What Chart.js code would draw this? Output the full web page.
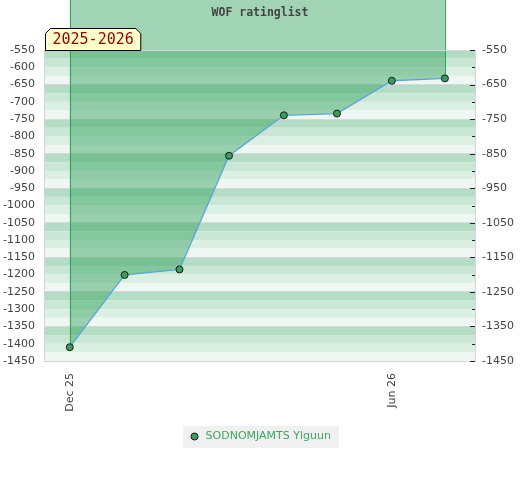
<!DOCTYPE html>
<html><head><meta charset="utf-8">
<script src="https://cdn.jsdelivr.net/npm/chart.js@4.4.0/dist/chart.umd.min.js"></script>
<style>html,body{margin:0;padding:0;background:#fff;}</style>
</head><body>
<canvas id="c" width="520" height="480" style="width:520px;height:480px;display:block"></canvas>
<script>
// ---- data ----
const chartTitle = 'WOF ratinglist';
const seasonLabel = '2025-2026';
const seriesName = 'SODNOMJAMTS Ylguun';
const dates = ['2025-12-01','2026-01-01','2026-02-01','2026-03-01','2026-04-01','2026-05-01','2026-06-01','2026-07-01'];
const ratings = [-1410, -1201, -1185, -856, -739, -734, -639, -632];
const xTickDates = ['2025-12-01','2026-06-01'];
const xTickLabels = ['Dec 25','Jun 26'];
const xRangeDates = ['2025-11-17','2026-07-18'];
const yMin = -1450, yMax = -550;

// ---- helpers ----
const DAY = 86400000;
const dayOf = d => Math.round((Date.parse(d) - Date.parse(dates[0])) / DAY);
const points = dates.map((d, i) => ({x: dayOf(d), y: ratings[i]}));
const xTickVals = xTickDates.map(dayOf);
const FONT = 'DejaVu Sans';
const stripeColors = ['#b3ddc4', '#c9e7d4', '#dcefe3', '#eef7f1'];

const decor = {
  id: 'decor',
  beforeDraw(chart) {
    const {ctx, chartArea: a} = chart;
    const ys = chart.scales.y;
    ctx.save();
    const hb = chart.legend && chart.legend.legendHitBoxes && chart.legend.legendHitBoxes[0];
    if (hb) {
      ctx.fillStyle = '#f0f0f0';
      const cy = hb.top + hb.height / 2;
      ctx.fillRect(Math.round(hb.left - 6), Math.round(cy - 11), Math.round(hb.width + 14), 22);
    }
    let k = 0;
    for (let v = yMax; v > yMin; v -= 25, k++) {
      const y1 = ys.getPixelForValue(v), y2 = ys.getPixelForValue(v - 25);
      ctx.fillStyle = stripeColors[k % 4];
      ctx.fillRect(a.left, y1, a.right - a.left, y2 - y1);
    }
    ctx.restore();
  },
  beforeDatasetsDraw(chart) {
    const {ctx} = chart;
    const els = chart.getDatasetMeta(0).data;
    if (!els.length) return;
    const first = els[0], last = els[els.length - 1];
    ctx.save();
    ctx.beginPath();
    ctx.moveTo(first.x, 0);
    els.forEach(p => ctx.lineTo(p.x, p.y));
    ctx.lineTo(last.x, 0);
    ctx.closePath();
    ctx.fillStyle = 'rgba(46,160,90,0.45)';
    ctx.fill();
    ctx.strokeStyle = '#2ea35a';
    ctx.lineWidth = 1;
    ctx.beginPath();
    const fx = Math.round(first.x) + 0.5, lx = Math.round(last.x) + 0.5;
    ctx.moveTo(fx, 0); ctx.lineTo(fx, first.y);
    ctx.moveTo(lx, 0); ctx.lineTo(lx, last.y);
    ctx.stroke();
    ctx.restore();
  },
  afterDatasetsDraw(chart) {
    const {ctx, chartArea: a} = chart;
    ctx.save();
    ctx.strokeStyle = '#d6d6d6';
    ctx.lineWidth = 1;
    ctx.strokeRect(Math.round(a.left) - 0.5, Math.round(a.top) + 0.5, Math.round(a.right - a.left) + 1, Math.round(a.bottom - a.top));
    const y2 = chart.scales.y2;
    ctx.strokeStyle = '#222';
    y2.ticks.forEach(t => {
      const y = Math.round(y2.getPixelForValue(t.value)) + 0.5;
      const major = ((t.value - yMax) % 100) === 0;
      ctx.beginPath();
      ctx.moveTo(a.right - (major ? 5 : 3), y);
      ctx.lineTo(a.right, y);
      ctx.stroke();
    });
    ctx.fillStyle = '#444';
    ctx.font = 'bold 11.5px "DejaVu Sans Mono"';
    ctx.textAlign = 'center';
    ctx.textBaseline = 'middle';
    ctx.fillText(chartTitle, (a.left + a.right) / 2, 13);
    ctx.restore();
  },
  afterDraw(chart) {
    const {ctx, chartArea: a} = chart;
    ctx.save();
    ctx.font = '15px "DejaVu Sans Mono"';
    const w = ctx.measureText(seasonLabel).width + 14;
    const x0 = Math.round(a.left) + 0.5, y0 = 28.5, h = 22, c = 5;
    ctx.beginPath();
    ctx.moveTo(x0, y0 + c);
    ctx.lineTo(x0 + c, y0);
    ctx.lineTo(x0 + w - c, y0);
    ctx.lineTo(x0 + w, y0 + c);
    ctx.lineTo(x0 + w, y0 + h);
    ctx.lineTo(x0, y0 + h);
    ctx.closePath();
    ctx.fillStyle = '#ffffcc';
    ctx.fill();
    ctx.strokeStyle = '#000';
    ctx.lineWidth = 1;
    ctx.stroke();
    ctx.fillStyle = '#990000';
    ctx.textAlign = 'left';
    ctx.textBaseline = 'middle';
    ctx.fillText(seasonLabel, x0 + 7, y0 + h / 2 + 1);
    ctx.restore();
  }
};

new Chart(document.getElementById('c'), {
  type: 'line',
  data: {
    datasets: [{
      label: seriesName,
      data: points,
      yAxisID: 'y',
      borderColor: '#5aa5dc',
      borderWidth: 1.3,
      fill: false,
      tension: 0,
      pointRadius: 3.5,
      pointBackgroundColor: '#3a9d5d',
      pointBorderColor: '#1a1a1a',
      pointBorderWidth: 1,
      clip: false
    }]
  },
  options: {
    responsive: false,
    animation: false,
    devicePixelRatio: 1,
    layout: {padding: {top: 50, bottom: 28, left: 0, right: 0}},
    plugins: {
      legend: {
        position: 'bottom',
        labels: {usePointStyle: true, boxHeight: 5, boxWidth: 12, padding: 8, color: '#3aa860', font: {family: FONT, size: 11}}
      },
      tooltip: {enabled: false},
      title: {display: false}
    },
    scales: {
      x: {
        type: 'linear',
        min: dayOf(xRangeDates[0]),
        max: dayOf(xRangeDates[1]),
        grid: {display: false},
        border: {display: false},
        afterBuildTicks: s => { s.ticks = xTickVals.map(v => ({value: v})); },
        ticks: {
          autoSkip: false, minRotation: 90, maxRotation: 90, padding: 4, color: '#444',
          font: {family: FONT, size: 11},
          callback: v => { const i = xTickVals.indexOf(v); return i >= 0 ? xTickLabels[i] : ''; }
        },
        afterFit: s => { s.height = 62; }
      },
      y: {
        position: 'left', min: yMin, max: yMax,
        grid: {display: false, drawTicks: false},
        border: {display: false},
        ticks: {stepSize: 50, autoSkip: false, padding: 10, color: '#444', font: {family: FONT, size: 11},
          callback: v => String(v)},
        afterFit: s => { s.width = 45; }
      },
      y2: {
        position: 'right', min: yMin, max: yMax,
        grid: {
          drawTicks: false,
          color: c => (c.tick && ((c.tick.value - yMax) % 100) === 0) ? '#d8d8d8' : 'rgba(0,0,0,0)'
        },
        border: {display: false},
        ticks: {
          stepSize: 50, autoSkip: false, padding: 7, color: '#444', font: {family: FONT, size: 11},
          callback: v => (((v - yMax) % 100) === 0 ? String(v) : '')
        },
        afterFit: s => { s.width = 45; }
      }
    }
  },
  plugins: [decor]
});
</script>
</body></html>
